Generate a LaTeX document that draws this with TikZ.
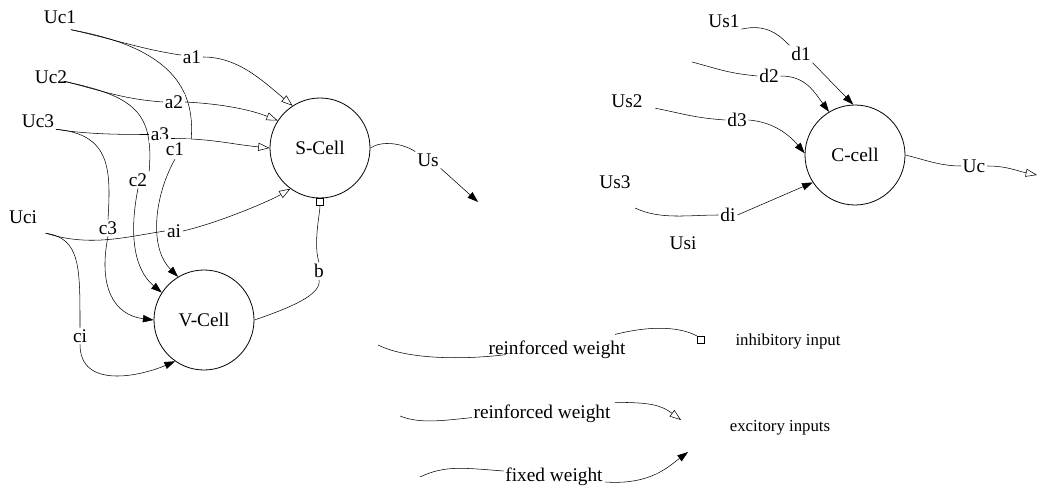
\documentclass[tikz,border=0pt]{standalone}
\usepackage{fontspec}
\setmainfont{Liberation Serif}
\usetikzlibrary{arrows.meta}
\pgfdeclarelayer{bg}
\pgfsetlayers{bg,main}
\begin{document}
\begin{tikzpicture}[x=0.75pt,y=-0.75pt,
  font=\fontsize{14.5}{17}\selectfont, line width=0.6pt,
  cell/.style={circle,draw,minimum size=75pt,inner sep=0pt},
  lab/.style={fill=white,inner sep=1.2pt},
  txt/.style={inner sep=1pt},
  small/.style={font=\fontsize{12.6}{14}\selectfont},
  opn/.style={-{Triangle[open,length=8.5pt,width=6pt]}},
  fil/.style={-{Triangle[length=8pt,width=5.5pt]}},
  sqt/.style={-{Square[open,length=5.5pt,width=5.5pt]}},
  sqbox/.style={draw,rectangle,minimum size=5.5pt,inner sep=0pt}]
\useasboundingbox (0,0) rectangle (1037,488);
% cells
\node[cell] (S) at (320,148) {S-Cell};
\node[cell] (V) at (204,320) {V-Cell};
\node[cell] (C) at (855,155) {C-cell};
% left texts
\node[txt] (Uc1) at (60,17) {Uc1};
\node[txt] (Uc2) at (51,77) {Uc2};
\node[txt] (Uc3) at (38,121) {Uc3};
\node[txt] (Uci) at (23,217) {Uci};
\node[lab] (a1) at (192,57) {a1};
\node[lab] (a2) at (174,102) {a2};
\node[lab] (a3) at (160,134.5) {a3};
\node[lab,inner xsep=5pt,inner ysep=2.5pt] (c1) at (175,149) {c1};
\node[lab] (c2) at (138,180) {c2};
\node[lab] (c3) at (108,228) {c3};
\node[lab] (ai) at (174,231) {ai};
\node[lab] (ci) at (80,336) {ci};
\node[lab] (Us) at (428,160) {Us};
\node[lab] (b) at (319,271) {b};
% right texts
\node[txt] (Us1) at (724,21) {Us1};
\node[lab] (d1) at (801,54) {d1};
\node[lab] (d2) at (769,76) {d2};
\node[txt] (Us2) at (627,101) {Us2};
\node[lab] (d3) at (737,120) {d3};
\node[txt] (Us3) at (615,182) {Us3};
\node[lab] (di) at (728,215) {di};
\node[txt] (Usi) at (683,243) {Usi};
\node[lab] (Uc) at (974,166) {Uc};
% legend
\node[txt] (rw1) at (557,350) {reinforced weight};
\node[txt] (rw2) at (542,414) {reinforced weight};
\node[txt] (fw) at (554,477) {fixed weight};
\node[txt,small] (inh) at (788,341) {inhibitory input};
\node[txt,small] (exc) at (780,428) {excitory inputs};
\node[sqbox] (sqr) at (701,340) {};
% free ends
\coordinate (usend) at (478,202);
\coordinate (ucend) at (1037,175);
\coordinate (d2s) at (692,62);
\coordinate (us3s) at (635,208);
\coordinate (l1s) at (378,345);
\coordinate (l2s) at (400,416);
\coordinate (l3s) at (420,477);
\coordinate (l2t) at (681,420);
\coordinate (l3t) at (688,452);
\begin{pgfonlayer}{bg}
% left network
\draw ([shift={(-7,4.5)}]Uc1.south east) .. controls +(45,10) and +(-40,-6) .. (a1.170);
\draw[opn] (a1.east) .. controls +(35,0) and +(-30,-25) .. (S.123);
\draw ([shift={(-7,4.5)}]Uc1.south east) .. controls +(100,18) and +(4,-50) .. (c1.north east);
\draw[fil] (c1.south) .. controls +(-20,35) and +(-30,-30) .. (V.121);
\draw ([shift={(-5,-4)}]Uc2.south east) .. controls +(40,10) and +(-40,-3) .. (a2.west);
\draw[opn] (a2.east) .. controls +(40,2) and +(-25,-10) .. (S.147);
\draw ([shift={(-5,-4)}]Uc2.south east) .. controls +(70,15) and +(5,-60) .. (c2.north east);
\draw[fil] (c2.south) .. controls +(-8,40) and +(-30,-25) .. (V.147);
\draw (Uc3.south east) .. controls +(30,5) and +(-30,0) .. (a3.west);
\draw[opn] ([shift={(0,4)}]a3.east) .. controls +(40,0) and +(-40,-4) .. (S.180);
\draw (Uc3.south east) .. controls +(55,5) and +(3,-50) .. (c3.north);
\draw[fil] (c3.south) .. controls +(-10,50) and +(-40,-5) .. (V.180);
\draw ([shift={(7,8)}]Uci.south east) .. controls +(45,14) and +(-40,6) .. (ai.west);
\draw[opn] (ai.east) .. controls +(35,-8) and +(-20,12) .. (S.-126);
\draw ([shift={(7,8)}]Uci.south east) .. controls +(35,5) and +(0,-60) .. (ci.north);
\draw[fil] (ci.south) .. controls +(0,45) and +(-35,15) .. (V.-125);
\draw (S.east) .. controls +(12,-8) and +(-12,-8) .. (Us.north west);
\draw[fil] (Us.south east) -- (usend);
\draw (V.east) .. controls +(35,-12) and +(3,15) .. (b.south);
\draw[sqt] (b.north) .. controls +(-6,-18) and +(0,15) .. (S.south);
% right network
\draw (Us1.south east) .. controls +(25,-6) and +(-10,-10) .. (d1.north west);
\draw[fil] (d1.south east) -- (C.92);
\draw (d2s) .. controls +(30,8) and +(-30,-3) .. (d2.west);
\draw[fil] (d2.east) .. controls +(25,0) and +(-15,-20) .. (C.121);
\draw ([shift={(11,-1)}]Us2.south east) .. controls +(30,6) and +(-30,-2) .. (d3.west);
\draw[fil] (d3.east) .. controls +(25,2) and +(-15,-18) .. (C.178);
\draw (us3s) .. controls +(25,12) and +(-30,0) .. (di.west);
\draw[fil] (di.east) -- (C.-147);
\draw (C.east) .. controls +(20,5) and +(-20,0) .. (Uc.west);
\draw[opn] (Uc.east) .. controls +(20,0) and +(-20,-4) .. (ucend);
% legend
\draw (l1s) .. controls +(30,15) and +(-40,5) .. ([shift={(19,-6)}]rw1.south west);
\draw ([shift={(-12,-5)}]rw1.north east) .. controls +(40,-10) and +(-15,-8) .. (sqr.north west);
\draw (l2s) .. controls +(20,8) and +(-30,3) .. ([shift={(0,-7)}]rw2.south west);
\draw[opn] ([shift={(3,-1)}]rw2.north east) .. controls +(35,0) and +(-20,-15) .. (l2t);
\draw (l3s) .. controls +(25,-12) and +(-40,-3) .. ([shift={(0,-6)}]fw.west);
\draw[fil] ([shift={(1,5)}]fw.east) .. controls +(45,3) and +(-20,15) .. (l3t);
\end{pgfonlayer}
\end{tikzpicture}
\end{document}
